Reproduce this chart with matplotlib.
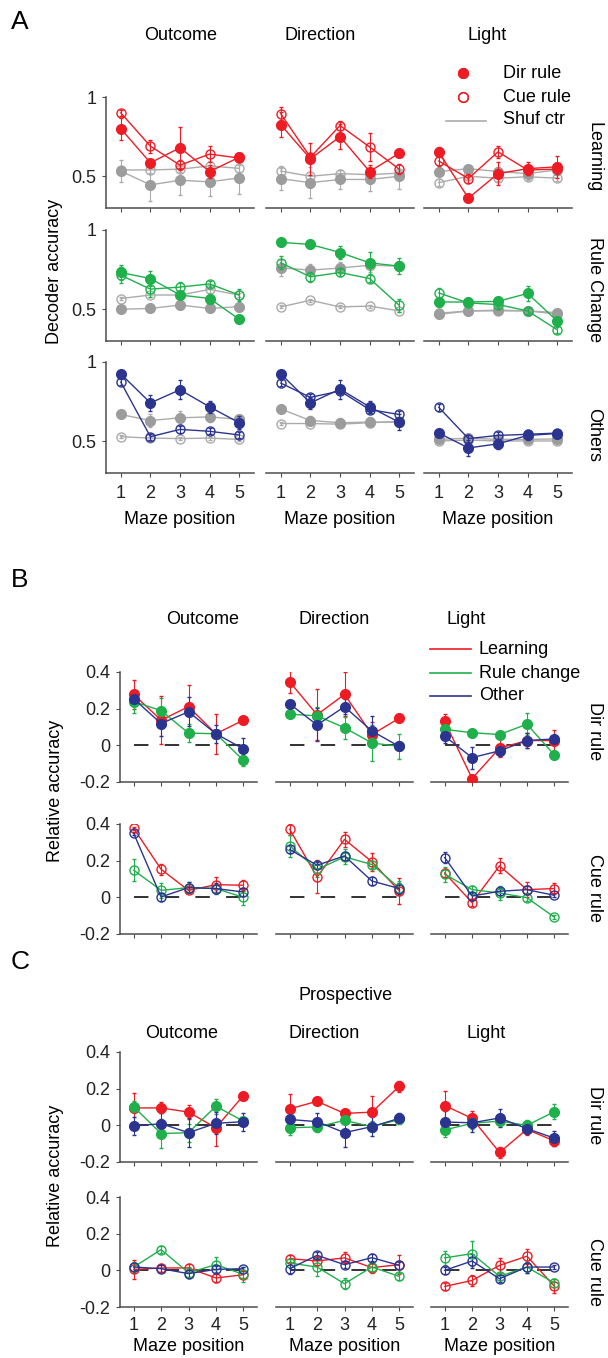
"""Decoder accuracy along the maze (panels A-C)."""
import matplotlib
matplotlib.use('Agg')
import matplotlib.pyplot as plt
from matplotlib.lines import Line2D

plt.rcParams['font.family'] = ['Liberation Sans', 'DejaVu Sans']
plt.rcParams['font.size'] = 13

W, H = 608, 1358
positions = [1, 2, 3, 4, 5]
variables = ['Outcome', 'Direction', 'Light']

# ---- panel A: decoder accuracy, one row per session group, [outcome, direction, light]
A_learn_dir = [[0.80, 0.585, 0.68, 0.53, 0.62], [0.825, 0.61, 0.75, 0.53, 0.645], [0.652, 0.362, 0.517, 0.548, 0.56]]
A_learn_cue = [[0.90, 0.69, 0.57, 0.64, 0.615], [0.894, 0.62, 0.82, 0.685, 0.545], [0.596, 0.486, 0.654, 0.54, 0.545]]
A_learn_shuf_dir = [[0.533, 0.446, 0.475, 0.465, 0.49], [0.485, 0.46, 0.48, 0.48, 0.50], [0.53, 0.548, 0.53, 0.517, 0.54]]
A_learn_shuf_cue = [[0.54, 0.54, 0.545, 0.565, 0.55], [0.533, 0.50, 0.517, 0.51, 0.52], [0.46, 0.50, 0.488, 0.497, 0.488]]
A_learn_dir_err = [[0.07, 0.02, 0.13, 0.04, 0.03], [0.08, 0.10, 0.08, 0.04, 0.02], [0.03, 0.02, 0.07, 0.04, 0.07]]
A_learn_cue_err = [[0.02, 0.04, 0.03, 0.05, 0.02], [0.04, 0.03, 0.03, 0.09, 0.03], [0.03, 0.03, 0.04, 0.03, 0.03]]
A_learn_shuf_dir_err = [[0.07, 0.10, 0.09, 0.09, 0.10], [0.07, 0.10, 0.06, 0.07, 0.08], [0.02, 0.02, 0.03, 0.03, 0.03]]
A_learn_shuf_cue_err = [[0.02, 0.02, 0.02, 0.03, 0.02], [0.03, 0.03, 0.02, 0.03, 0.02], [0.02, 0.02, 0.02, 0.02, 0.02]]

A_rule_dir = [[0.732, 0.694, 0.59, 0.568, 0.437], [0.922, 0.909, 0.858, 0.793, 0.772], [0.546, 0.546, 0.55, 0.60, 0.426]]
A_rule_cue = [[0.715, 0.627, 0.64, 0.66, 0.59], [0.793, 0.705, 0.732, 0.694, 0.525], [0.603, 0.54, 0.53, 0.49, 0.371]]
A_rule_shuf_dir = [[0.50, 0.505, 0.527, 0.505, 0.517], [0.762, 0.747, 0.76, 0.778, 0.772], [0.468, 0.489, 0.495, 0.49, 0.479]]
A_rule_shuf_cue = [[0.568, 0.59, 0.59, 0.625, 0.59], [0.515, 0.557, 0.515, 0.52, 0.49], [0.475, 0.49, 0.49, 0.49, 0.47]]
A_rule_dir_err = [[0.05, 0.05, 0.02, 0.03, 0.02], [0.01, 0.02, 0.04, 0.07, 0.05], [0.03, 0.02, 0.03, 0.05, 0.02]]
A_rule_cue_err = [[0.05, 0.05, 0.03, 0.02, 0.04], [0.04, 0.03, 0.02, 0.02, 0.04], [0.03, 0.02, 0.02, 0.02, 0.02]]
A_rule_shuf_dir_err = [[0.01, 0.01, 0.01, 0.01, 0.01], [0.05, 0.04, 0.04, 0.04, 0.03], [0.01, 0.01, 0.01, 0.01, 0.01]]
A_rule_shuf_cue_err = [[0.01, 0.01, 0.01, 0.02, 0.01], [0.01, 0.01, 0.01, 0.01, 0.01], [0.01, 0.01, 0.01, 0.01, 0.01]]

A_other_dir = [[0.925, 0.742, 0.825, 0.717, 0.617], [0.925, 0.742, 0.829, 0.717, 0.62], [0.552, 0.458, 0.484, 0.537, 0.549]]
A_other_cue = [[0.873, 0.529, 0.575, 0.563, 0.54], [0.867, 0.777, 0.817, 0.70, 0.669], [0.714, 0.517, 0.537, 0.544, 0.552]]
A_other_shuf_dir = [[0.669, 0.631, 0.648, 0.654, 0.638], [0.704, 0.631, 0.617, 0.621, 0.62], [0.512, 0.52, 0.512, 0.512, 0.515]]
A_other_shuf_cue = [[0.529, 0.52, 0.517, 0.52, 0.512], [0.612, 0.612, 0.608, 0.617, 0.625], [0.502, 0.508, 0.502, 0.502, 0.502]]
A_other_dir_err = [[0.02, 0.05, 0.06, 0.04, 0.04], [0.02, 0.04, 0.06, 0.04, 0.05], [0.02, 0.05, 0.03, 0.03, 0.02]]
A_other_cue_err = [[0.02, 0.02, 0.02, 0.02, 0.02], [0.02, 0.02, 0.02, 0.02, 0.02], [0.02, 0.02, 0.02, 0.03, 0.02]]
A_other_shuf_dir_err = [[0.02, 0.04, 0.04, 0.03, 0.03], [0.02, 0.03, 0.03, 0.03, 0.03], [0.01, 0.02, 0.02, 0.02, 0.02]]
A_other_shuf_cue_err = [[0.01, 0.01, 0.01, 0.01, 0.01], [0.01, 0.01, 0.01, 0.01, 0.01], [0.01, 0.01, 0.01, 0.01, 0.01]]

# ---- panel B: relative accuracy per session group, rows = Dir rule / Cue rule
B_dir_learn = [[0.278, 0.137, 0.211, 0.063, 0.137], [0.346, 0.167, 0.278, 0.059, 0.148], [0.13, -0.181, -0.015, 0.026, 0.026]]
B_dir_rule = [[0.239, 0.189, 0.067, 0.063, -0.081], [0.170, 0.161, 0.096, 0.013, -0.006], [0.087, 0.069, 0.059, 0.115, -0.052]]
B_dir_other = [[0.254, 0.119, 0.183, 0.063, -0.019], [0.226, 0.111, 0.211, 0.078, -0.006], [0.05, -0.067, -0.03, 0.026, 0.035]]
B_dir_learn_err = [[0.08, 0.13, 0.12, 0.11, 0.01], [0.06, 0.14, 0.12, 0.07, 0.01], [0.04, 0.01, 0.05, 0.04, 0.06]]
B_dir_rule_err = [[0.06, 0.07, 0.05, 0.02, 0.03], [0.01, 0.05, 0.06, 0.10, 0.07], [0.03, 0.01, 0.01, 0.06, 0.02]]
B_dir_other_err = [[0.03, 0.07, 0.08, 0.05, 0.06], [0.02, 0.09, 0.04, 0.08, 0.02], [0.04, 0.06, 0.03, 0.04, 0.01]]

B_cue_learn = [[0.376, 0.153, 0.038, 0.069, 0.066], [0.371, 0.111, 0.316, 0.194, 0.035], [0.133, -0.029, 0.172, 0.042, 0.048]]
B_cue_rule = [[0.148, 0.038, 0.053, 0.048, 0.0], [0.281, 0.152, 0.221, 0.179, 0.051], [0.126, 0.042, 0.024, -0.002, -0.108]]
B_cue_other = [[0.349, 0.002, 0.053, 0.048, 0.029], [0.261, 0.175, 0.226, 0.089, 0.048], [0.217, 0.007, 0.033, 0.042, 0.011]]
B_cue_learn_err = [[0.01, 0.03, 0.01, 0.04, 0.03], [0.03, 0.09, 0.04, 0.05, 0.07], [0.02, 0.02, 0.04, 0.04, 0.03]]
B_cue_rule_err = [[0.06, 0.04, 0.03, 0.02, 0.04], [0.06, 0.04, 0.04, 0.02, 0.04], [0.04, 0.02, 0.04, 0.02, 0.01]]
B_cue_other_err = [[0.01, 0.02, 0.03, 0.03, 0.02], [0.02, 0.02, 0.02, 0.02, 0.03], [0.03, 0.02, 0.02, 0.02, 0.01]]

# ---- panel C: prospective relative accuracy
C_dir_learn = [[0.095, 0.095, 0.072, -0.013, 0.162], [0.09, 0.131, 0.065, 0.072, 0.213], [0.108, 0.038, -0.148, -0.022, -0.085]]
C_dir_rule = [[0.101, -0.045, -0.04, 0.104, 0.023], [-0.013, -0.009, 0.027, -0.007, 0.032], [-0.025, 0.011, 0.023, 0.0, 0.074]]
C_dir_other = [[-0.004, 0.009, -0.04, 0.011, 0.02], [0.032, 0.02, -0.04, -0.007, 0.038], [0.018, 0.014, 0.04, -0.018, -0.07]]
C_dir_learn_err = [[0.08, 0.03, 0.04, 0.10, 0.01], [0.08, 0.01, 0.02, 0.09, 0.03], [0.08, 0.04, 0.03, 0.03, 0.03]]
C_dir_rule_err = [[0.03, 0.08, 0.05, 0.04, 0.02], [0.04, 0.03, 0.02, 0.03, 0.02], [0.04, 0.03, 0.02, 0.03, 0.04]]
C_dir_other_err = [[0.05, 0.06, 0.08, 0.06, 0.05], [0.04, 0.05, 0.08, 0.05, 0.03], [0.06, 0.05, 0.05, 0.03, 0.04]]

C_cue_learn = [[0.005, 0.013, 0.013, -0.042, -0.024], [0.064, 0.051, 0.068, 0.015, 0.031], [-0.088, -0.055, 0.027, 0.077, -0.086]]
C_cue_rule = [[0.018, 0.113, -0.013, 0.031, -0.022], [0.04, 0.018, -0.073, 0.018, -0.033], [0.068, 0.091, -0.033, 0.018, -0.069]]
C_cue_other = [[0.018, 0.009, -0.018, 0.005, 0.009], [0.009, 0.082, 0.031, 0.069, 0.027], [0.0, 0.051, -0.046, 0.018, 0.018]]
C_cue_learn_err = [[0.05, 0.02, 0.02, 0.02, 0.02], [0.02, 0.02, 0.03, 0.03, 0.05], [0.02, 0.03, 0.04, 0.04, 0.04]]
C_cue_rule_err = [[0.03, 0.02, 0.03, 0.04, 0.04], [0.02, 0.05, 0.03, 0.02, 0.02], [0.04, 0.07, 0.02, 0.03, 0.02]]
C_cue_other_err = [[0.02, 0.02, 0.02, 0.02, 0.01], [0.03, 0.02, 0.02, 0.02, 0.02], [0.02, 0.04, 0.02, 0.03, 0.01]]

RED = '#ed1c24'
GREEN = '#1fb04b'
BLUE = '#2b3590'
GRAY = '#9c9c9c'
GRAY_LINE = '#ababab'
AXC = '#4d4d4d'


def box(x0, top, w, h):
    """Axes rectangle from pixel coordinates (origin top left)."""
    return [x0 / W, 1 - (top + h) / H, w / W, h / H]


def ftext(x, y, s, **kw):
    fig.text(x / W, 1 - y / H, s, **kw)


def style(ax, col, bottom, ylim, yticks, ylabels, xpad=6, labelpad=6):
    ax.set_xlim(0.5, 5.5)
    ax.set_ylim(*ylim)
    for side in ('top', 'right'):
        ax.spines[side].set_visible(False)
    for side in ('left', 'bottom'):
        ax.spines[side].set_color(AXC)
        ax.spines[side].set_linewidth(1.1)
    ax.set_xticks(positions)
    if bottom:
        ax.set_xticklabels([str(p) for p in positions])
        ax.set_xlabel('Maze position', labelpad=labelpad)
    else:
        ax.set_xticklabels([])
    if col == 0:
        ax.set_yticks(yticks)
        ax.set_yticklabels(ylabels)
    else:
        ax.spines['left'].set_visible(False)
        ax.set_yticks([])
    ax.tick_params(length=3, width=0.8, color=AXC, pad=4, labelcolor='#222222')
    ax.tick_params(axis='x', pad=xpad)
    ax.set_facecolor('none')


def series(ax, y, err, color, filled, line=None, z=3):
    ax.errorbar(positions, y, yerr=err, color=line or color, lw=1, elinewidth=0.8,
                capsize=1.2, marker='o', ms=7 if filled else 6.5,
                mfc=color if filled else 'none', mec=color, mew=1, zorder=z)


fig = plt.figure(figsize=(W / 100, H / 100), dpi=100)

# ---------------- panel A
A_rows = [
    (A_learn_dir, A_learn_cue, A_learn_shuf_dir, A_learn_shuf_cue,
     A_learn_dir_err, A_learn_cue_err, A_learn_shuf_dir_err, A_learn_shuf_cue_err, RED),
    (A_rule_dir, A_rule_cue, A_rule_shuf_dir, A_rule_shuf_cue,
     A_rule_dir_err, A_rule_cue_err, A_rule_shuf_dir_err, A_rule_shuf_cue_err, GREEN),
    (A_other_dir, A_other_cue, A_other_shuf_dir, A_other_shuf_cue,
     A_other_dir_err, A_other_cue_err, A_other_shuf_dir_err, A_other_shuf_cue_err, BLUE),
]
A_x = [106, 266, 424]
A_top = [97, 230, 362]
for r, (d, c, sd, sc, de, ce, sde, sce, color) in enumerate(A_rows):
    for k in range(3):
        ax = fig.add_axes(box(A_x[k], A_top[r], 148, 111))
        series(ax, sc[k], sce[k], GRAY_LINE, False, z=2)
        series(ax, sd[k], sde[k], GRAY, True, line=GRAY_LINE, z=2)
        series(ax, c[k], ce[k], color, False, z=3)
        series(ax, d[k], de[k], color, True, z=4)
        style(ax, k, r == 2, (0.3, 1.0), [0.5, 1.0], ['0.5', '1'])

# ---------------- panels B and C
BC_x = [120, 276, 431]
groups = [
    ((B_dir_learn, B_dir_rule, B_dir_other), (B_dir_learn_err, B_dir_rule_err, B_dir_other_err), True, 672, False),
    ((B_cue_learn, B_cue_rule, B_cue_other), (B_cue_learn_err, B_cue_rule_err, B_cue_other_err), False, 824, False),
    ((C_dir_learn, C_dir_rule, C_dir_other), (C_dir_learn_err, C_dir_rule_err, C_dir_other_err), True, 1052, False),
    ((C_cue_learn, C_cue_rule, C_cue_other), (C_cue_learn_err, C_cue_rule_err, C_cue_other_err), False, 1197, True),
]
for vals, errs, filled, top, bottom in groups:
    for k in range(3):
        ax = fig.add_axes(box(BC_x[k], top, 137, 110))
        ax.plot([positions[0], positions[-1]], [0, 0], color='#222222', lw=1.3,
                dashes=(8, 9), zorder=1)
        for v, e, color in zip(vals, errs, (RED, GREEN, BLUE)):
            series(ax, v[k], e[k], color, filled)
        style(ax, k, bottom, (-0.2, 0.4), [-0.2, 0, 0.2, 0.4], ['-0.2', '0', '0.2', '0.4'],
              xpad=4, labelpad=3)

# ---------------- titles and labels
for x, name in zip([181, 320, 487], variables):
    ftext(x, 35, name, ha='center', va='center')
for x, name in zip([203, 334, 466], variables):
    ftext(x, 620, name, ha='center', va='center')
for x, name in zip([182, 324, 486], variables):
    ftext(x, 1034, name, ha='center', va='center')
ftext(346, 996, 'Prospective', ha='center', va='center')

ftext(20, 22, 'A', ha='center', va='center', fontsize=19)
ftext(20, 580, 'B', ha='center', va='center', fontsize=19)
ftext(20, 962, 'C', ha='center', va='center', fontsize=19)

ftext(55, 271, 'Decoder accuracy', ha='center', va='center', rotation=90)
ftext(55, 791, 'Relative accuracy', ha='center', va='center', rotation=90)
ftext(55, 1176, 'Relative accuracy', ha='center', va='center', rotation=90)

for y, name in [(157, 'Learning'), (290, 'Rule Change'), (435, 'Others'),
                (731, 'Dir rule'), (888, 'Cue rule'), (1115, 'Dir rule'), (1272, 'Cue rule')]:
    ftext(594, y, name, ha='center', va='center', rotation=-90)

# ---------------- legends
def fig_line(x0, x1, y, **kw):
    fig.add_artist(Line2D([x0 / W, x1 / W], [1 - y / H, 1 - y / H], **kw))


fig_line(463, 463, 73, marker='o', ms=7, mfc=RED, mec=RED, ls='none')
fig_line(463, 463, 97, marker='o', ms=7, mfc='none', mec=RED, mew=1, ls='none')
fig_line(446, 486, 121, color=GRAY_LINE, lw=1.2)
for y, name in [(73, 'Dir rule'), (97, 'Cue rule'), (120, 'Shuf ctr')]:
    ftext(503, y, name, ha='left', va='center')

for y, name, color in [(649, 'Learning', RED), (673, 'Rule change', GREEN), (696, 'Other', BLUE)]:
    fig_line(430, 471, y, color=color, lw=1.2)
    ftext(479, y, name, ha='left', va='center')

fig.savefig('out.png', dpi=100)
